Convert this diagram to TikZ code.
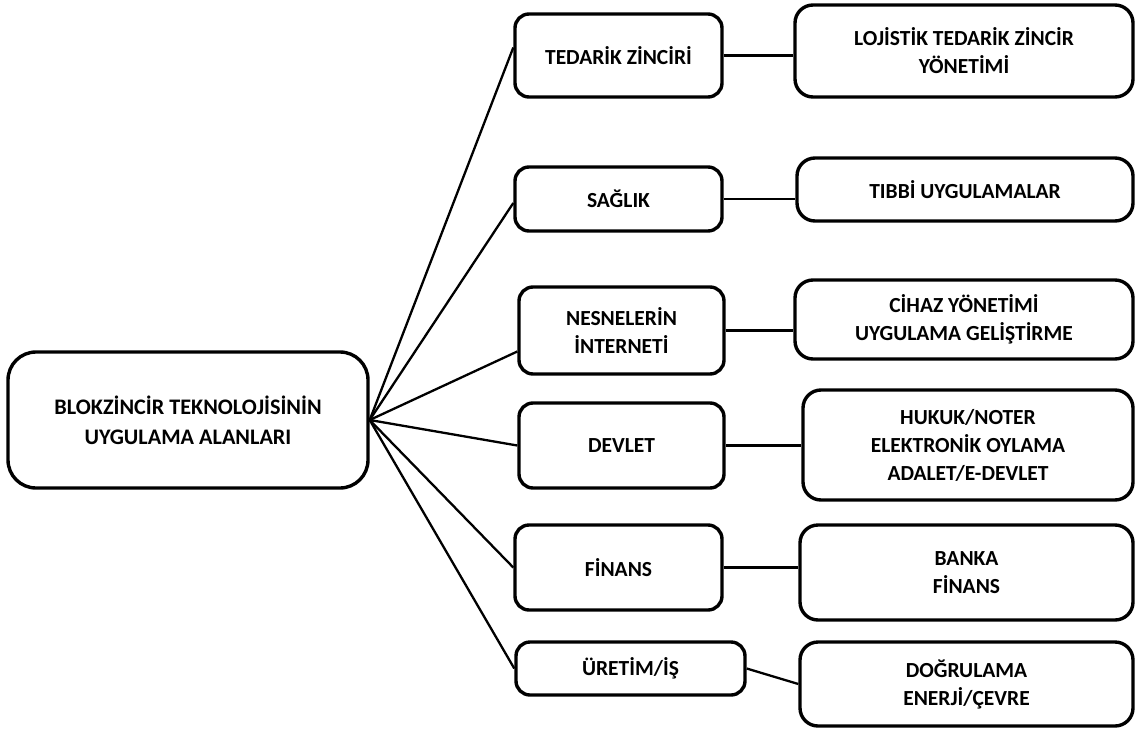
\documentclass[tikz,border=0pt]{standalone}
\usepackage{fontspec}
\setmainfont{Carlito}
\begin{document}
\begin{tikzpicture}[x=1pt,y=-1pt,
  box/.style={draw=black, line width=3.4pt, rounded corners=14pt, fill=white,
    inner sep=0pt, align=center, font=\fontsize{21.5}{28}\selectfont\bfseries},
  rootbox/.style={box, rounded corners=28pt, font=\fontsize{22.2}{30}\selectfont\bfseries},
  leafbox/.style={box, rounded corners=18pt},
  link/.style={draw=black, line width=2.3pt}]
\useasboundingbox (0,0) rectangle (1135,731);

% root
\node[rootbox, minimum width=360pt, minimum height=136pt] (root) at (188,420)
  {BLOKZİNCİR TEKNOLOJİSİNİN\\UYGULAMA ALANLARI};

% application areas
\node[box, minimum width=207pt, minimum height=83pt] (ted) at (618.5,55.5) {TEDARİK ZİNCİRİ};
\node[box, minimum width=207pt, minimum height=64pt] (sag) at (618.5,199) {SAĞLIK};
\node[box, minimum width=205pt, minimum height=87pt] (nes) at (621.5,330.5) {NESNELERİN\\İNTERNETİ};
\node[box, minimum width=205pt, minimum height=85pt] (dev) at (621.5,445.5) {DEVLET};
\node[box, minimum width=207pt, minimum height=85pt] (fin) at (618.5,567.5) {FİNANS};
\node[box, minimum width=229pt, minimum height=53pt] (ure) at (630.5,668.5) {ÜRETİM/İŞ};

% details
\node[leafbox, minimum width=338pt, minimum height=92pt] (loj) at (964,51) {LOJİSTİK TEDARİK ZİNCİR\\YÖNETİMİ};
\node[leafbox, minimum width=336pt, minimum height=63pt] (tib) at (965,189.5) {TIBBİ UYGULAMALAR};
\node[leafbox, minimum width=338pt, minimum height=79pt] (cih) at (964,319.5) {CİHAZ YÖNETİMİ\\UYGULAMA GELİŞTİRME};
\node[leafbox, minimum width=330pt, minimum height=110pt] (huk) at (968,445) {HUKUK/NOTER\\ELEKTRONİK OYLAMA\\ADALET/E-DEVLET};
\node[leafbox, minimum width=333pt, minimum height=95pt] (ban) at (966.5,572.5) {BANKA\\FİNANS};
\node[leafbox, minimum width=333pt, minimum height=84pt] (dog) at (966.5,684) {DOĞRULAMA\\ENERJİ/ÇEVRE};

% root to areas
\draw[link] (root.east) -- ([yshift=8pt]ted.west);
\draw[link] (root.east) -- ([yshift=-4pt]sag.west);
\draw[link] (root.east) -- ([yshift=-21pt]nes.west);
\draw[link] (root.east) -- (dev.west);
\draw[link] (root.east) -- (fin.west);
\draw[link] (root.east) -- (ure.west);

% areas to details
\draw[link] (ted.east) -- (ted.east -| loj.west);
\draw[link] (sag.east) -- (sag.east -| tib.west);
\draw[link] (nes.east) -- (nes.east -| cih.west);
\draw[link] (dev.east) -- (dev.east -| huk.west);
\draw[link] (fin.east) -- (fin.east -| ban.west);
\draw[link] (ure.east) -- (dog.west);
\end{tikzpicture}
\end{document}
